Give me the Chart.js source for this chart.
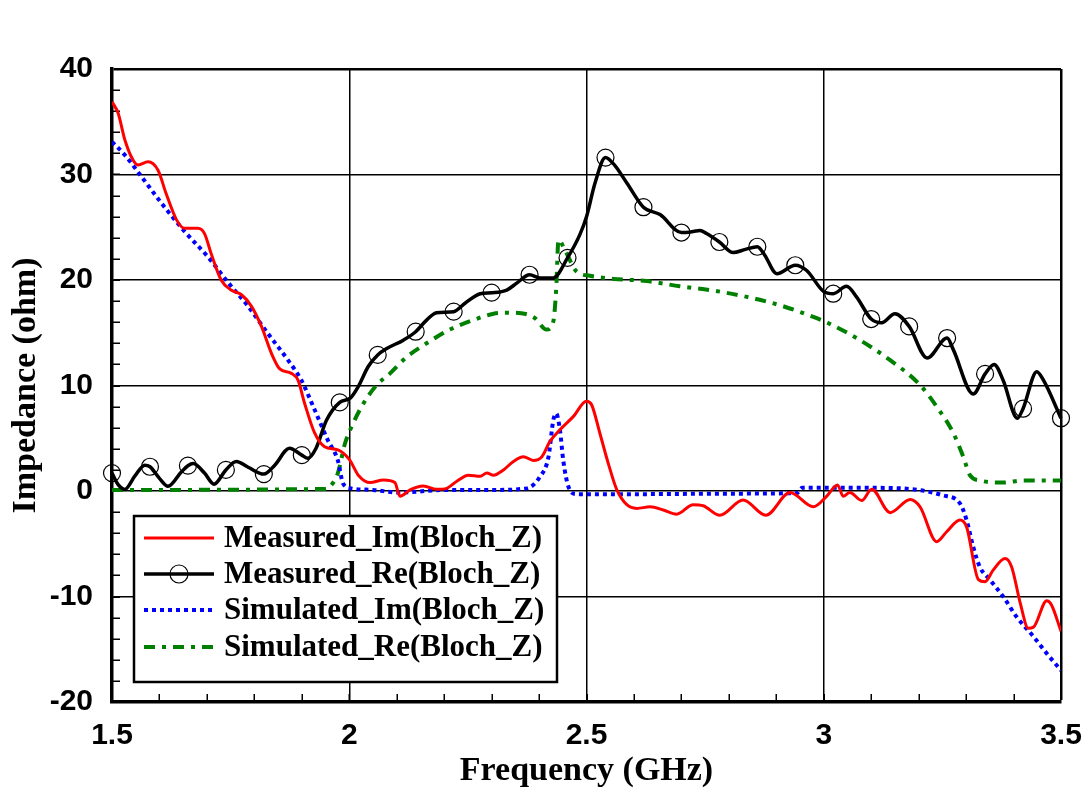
<!DOCTYPE html>
<html><head><meta charset="utf-8">
<script src="https://cdn.jsdelivr.net/npm/chart.js@4/dist/chart.umd.min.js"></script>
<style>html,body{margin:0;padding:0;background:#fff;}#wrap{width:1089px;height:805px;}</style>
</head><body><div id="wrap"><canvas id="c" width="1089" height="805"></canvas></div>
<script>
// ---- data (frequency in GHz, impedance in ohm) ----
const seriesNames = ['Measured_Im(Bloch_Z)','Measured_Re(Bloch_Z)','Simulated_Im(Bloch_Z)','Simulated_Re(Bloch_Z)'];
const xTickValues = [1.5, 2, 2.5, 3, 3.5];
const xTickLabels = ['1.5', '2', '2.5', '3', '3.5'];
const yTickValues = [-20, -10, 0, 10, 20, 30, 40];
const yTickLabels = ['-20', '-10', '0', '10', '20', '30', '40'];

const measImFreq = [1.500,1.513,1.527,1.544,1.555,1.576,1.597,1.614,1.636,1.653,1.681,1.695,1.709,1.730,1.751,1.773,1.794,1.815,1.836,1.853,1.878,1.892,1.906,1.927,1.948,1.976,2.000,2.020,2.044,2.072,2.096,2.107,2.128,2.156,2.184,2.205,2.226,2.251,2.276,2.290,2.304,2.325,2.346,2.367,2.388,2.406,2.423,2.444,2.472,2.500,2.511,2.528,2.546,2.564,2.585,2.606,2.634,2.662,2.690,2.725,2.746,2.781,2.830,2.878,2.929,2.978,3.006,3.029,3.041,3.055,3.080,3.101,3.140,3.182,3.203,3.238,3.259,3.287,3.301,3.326,3.340,3.357,3.382,3.396,3.414,3.431,3.442,3.470,3.480,3.500];
const measImVals = [36.9,35.8,33.3,31.4,30.9,31.2,30.4,28.2,25.7,24.9,24.9,24.4,22.5,20.0,19.05,18.6,17.5,15.6,13.05,11.6,11.15,10.5,8.3,5.5,4.2,3.9,3.0,1.45,0.8,1.04,0.8,-0.5,0.1,0.47,0.16,0.25,0.9,1.5,1.4,1.7,1.5,2.0,2.8,3.25,2.9,3.25,4.7,5.8,7.05,8.5,8.15,5.5,2.6,0.1,-1.3,-1.65,-1.5,-1.8,-2.2,-1.3,-1.4,-2.3,-0.85,-2.3,-0.15,-1.5,-0.5,0.57,-0.5,-0.15,-0.9,0.16,-2.05,-0.8,-1.5,-4.8,-3.86,-2.75,-3.4,-8.4,-8.6,-7.5,-6.4,-7.2,-10.6,-13.0,-12.9,-10.4,-10.8,-13.3];

const measReFreq = [1.500,1.513,1.527,1.548,1.569,1.580,1.600,1.618,1.646,1.660,1.671,1.695,1.715,1.740,1.762,1.787,1.820,1.843,1.874,1.900,1.913,1.930,1.952,1.980,2.002,2.019,2.040,2.060,2.079,2.114,2.140,2.163,2.184,2.220,2.244,2.276,2.300,2.332,2.353,2.380,2.402,2.430,2.460,2.486,2.500,2.518,2.540,2.557,2.585,2.620,2.655,2.700,2.725,2.739,2.753,2.780,2.809,2.835,2.860,2.875,2.901,2.940,2.964,3.000,3.020,3.048,3.069,3.100,3.122,3.150,3.180,3.218,3.260,3.273,3.315,3.340,3.359,3.378,3.408,3.420,3.449,3.463,3.500];
const measReVals = [1.7,0.6,0.15,1.4,2.45,2.3,1.2,0.45,1.8,2.4,2.6,1.7,0.65,2.0,2.8,2.25,1.6,2.45,4.05,3.4,3.1,4.05,6.7,8.4,8.8,9.9,11.8,12.9,13.5,14.3,15.1,16.2,16.9,17.0,17.8,18.7,18.8,19.05,19.7,20.5,20.2,20.2,22.1,24.3,26.0,29.2,31.6,31.0,29.2,26.9,26.2,24.5,24.6,24.7,24.4,23.6,22.6,22.9,23.15,22.4,20.6,21.4,20.9,18.9,18.7,19.4,18.4,16.3,15.95,16.8,15.6,12.6,14.5,13.4,9.2,11.1,12.0,10.5,6.9,7.8,11.3,10.5,6.9];
const measReMarkerFreq = [1.50,1.58,1.66,1.74,1.82,1.90,1.98,2.06,2.14,2.22,2.30,2.38,2.46,2.54,2.62,2.70,2.78,2.86,2.94,3.02,3.10,3.18,3.26,3.34,3.42,3.50];

const simImFreq = [1.500,1.527,1.562,1.604,1.653,1.702,1.744,1.787,1.829,1.871,1.899,1.927,1.955,1.976,1.987,2.004,2.050,2.107,2.200,2.300,2.374,2.402,2.420,2.430,2.436,2.444,2.451,2.462,2.479,2.600,2.800,2.943,2.955,3.100,3.200,3.250,3.287,3.301,3.315,3.329,3.350,3.378,3.406,3.442,3.470,3.500];
const simImVals = [33.1,31.85,29.8,27.3,24.6,22.2,19.8,17.5,14.9,12.4,10.5,7.7,4.8,2.9,0.7,0.25,0.1,-0.15,0.1,0.1,0.25,1.36,3.25,6.7,7.35,5.8,2.9,0.4,-0.3,-0.3,-0.25,-0.2,0.3,0.3,0.1,-0.4,-1.17,-2.75,-5.3,-7.2,-8.4,-10.0,-11.9,-13.8,-15.4,-17.0];

const simReFreq = [1.500,1.950,1.959,1.976,1.991,2.005,2.030,2.058,2.086,2.121,2.163,2.212,2.261,2.304,2.332,2.363,2.391,2.416,2.430,2.436,2.441,2.455,2.479,2.507,2.557,2.627,2.697,2.767,2.838,2.908,2.978,3.010,3.069,3.140,3.203,3.238,3.273,3.294,3.308,3.329,3.378,3.421,3.500];
const simReVals = [0.1,0.2,0.4,1.7,4.5,6.1,8.3,10.05,11.15,12.7,14.0,15.3,16.2,16.8,16.9,16.85,16.4,15.3,16.05,19.05,23.8,22.8,20.8,20.4,20.1,19.9,19.4,19.0,18.4,17.6,16.5,15.9,14.5,12.4,10.05,8.0,5.5,3.25,1.5,1.0,0.8,1.0,1.0];

function pts(xs, ys){ return xs.map((x,i)=>({x:x, y:ys[i]})); }
function isMarker(x){ return measReMarkerFreq.some(m => Math.abs(m-x) < 1e-6); }

const tickFont = {family:'"Liberation Sans", Arial, sans-serif', size:30, weight:'bold'};
const titleFont = {family:'"Liberation Serif", "Times New Roman", serif', size:34, weight:'bold'};

const frameAndMinor = {
  id:'frameAndMinor',
  beforeDatasetsDraw(chart){
    const {ctx, chartArea:a, scales:{x, y}} = chart;
    ctx.save();
    ctx.strokeStyle = '#000'; ctx.lineWidth = 1.5;
    ctx.beginPath();
    for (let v = 1.6; v < 3.45; v += 0.1){
      const px = Math.round(x.getPixelForValue(v)) + 0.25;
      ctx.moveTo(px, a.bottom); ctx.lineTo(px, a.bottom - 8);
    }
    for (let v = -18; v < 40; v += 2){
      const py = Math.round(y.getPixelForValue(v)) + 0.25;
      ctx.moveTo(a.left, py); ctx.lineTo(a.left + 8, py);
    }
    ctx.stroke();
    ctx.restore();
  },
  afterDraw(chart){
    const {ctx} = chart;
    const box = {l:134, t:516, r:557, b:682};
    ctx.save();
    ctx.fillStyle = '#fff';
    ctx.fillRect(box.l, box.t, box.r-box.l, box.b-box.t);
    ctx.strokeStyle = '#000'; ctx.lineWidth = 2.5;
    ctx.strokeRect(box.l, box.t, box.r-box.l, box.b-box.t);
    const rows = [538, 574, 610, 647];
    chart.data.datasets.forEach((ds, i) => {
      const yy = rows[i];
      ctx.save();
      ctx.strokeStyle = ds.borderColor; ctx.lineWidth = ds.borderWidth;
      ctx.setLineDash(ds.borderDash || []);
      ctx.beginPath(); ctx.moveTo(144, yy); ctx.lineTo(214, yy); ctx.stroke();
      ctx.setLineDash([]);
      if (i === 1){
        ctx.lineWidth = 1.2; ctx.beginPath(); ctx.arc(179, yy, 9, 0, Math.PI*2); ctx.stroke();
      }
      ctx.restore();
      ctx.fillStyle = '#000';
      ctx.font = 'bold 31px "Liberation Serif", "Times New Roman", serif';
      ctx.textBaseline = 'middle'; ctx.textAlign = 'left';
      ctx.fillText(ds.label, 224, yy + 1);
    });
    ctx.restore();
  }
};

new Chart(document.getElementById('c'), {
  type:'line',
  data:{datasets:[
    {label:seriesNames[0], data:pts(measImFreq, measImVals), borderColor:'#ff0000', borderWidth:3, pointRadius:0, cubicInterpolationMode:'monotone', fill:false},
    {label:seriesNames[1], data:pts(measReFreq, measReVals), borderColor:'#000000', borderWidth:3.5, cubicInterpolationMode:'monotone', fill:false, clip:false,
      pointRadius: c => (c.raw && isMarker(c.raw.x)) ? 8.5 : 0, pointHoverRadius:0, pointStyle:'circle', pointBorderWidth:1.2, pointBorderColor:'#000', pointBackgroundColor:'rgba(0,0,0,0)'},
    {label:seriesNames[2], data:pts(simImFreq, simImVals), borderColor:'#0000ff', borderWidth:4, borderDash:[4,4], pointRadius:0, cubicInterpolationMode:'monotone', fill:false},
    {label:seriesNames[3], data:pts(simReFreq, simReVals), borderColor:'#008000', borderWidth:4, borderDash:[11,7,4,7], pointRadius:0, cubicInterpolationMode:'monotone', fill:false}
  ]},
  options:{
    responsive:false, animation:false, devicePixelRatio:1,
    layout:{padding:{top:69, right:28, left:0, bottom:0}},
    plugins:{legend:{display:false}, tooltip:{enabled:false}},
    scales:{
      x:{type:'linear', min:1.5, max:3.5,
        afterBuildTicks: s => { s.ticks = xTickValues.map(v => ({value:v})); },
        afterFit: s => { s.height = 103; s.paddingLeft = 0; s.paddingRight = 0; },
        ticks:{color:'#000', font:tickFont, padding:16, maxRotation:0, autoSkip:false,
          callback:(v,i) => xTickLabels[i]},
        grid:{color:'#000', lineWidth: c => (c.tick && c.tick.value === 3.5) ? 2.5 : 1.5, drawTicks:false},
        border:{display:true, color:'#000', width:3.5},
        title:{display:true, text:'Frequency (GHz)', color:'#000', font:titleFont, padding:{top:0, bottom:13}}
      },
      y:{type:'linear', min:-20, max:40,
        afterBuildTicks: s => { s.ticks = yTickValues.map(v => ({value:v})); },
        afterFit: s => { s.width = 112; s.paddingTop = 0; s.paddingBottom = 0; },
        ticks:{color:'#000', font:tickFont, padding:19, autoSkip:false,
          callback:(v,i) => yTickLabels[i]},
        grid:{color:'#000', lineWidth: c => (c.tick && c.tick.value === 40) ? 2.5 : 1.5, drawTicks:false},
        border:{display:true, color:'#000', width:3.5},
        title:{display:true, text:'Impedance (ohm)', color:'#000', font:titleFont, padding:{top:6, bottom:0}}
      }
    }
  },
  plugins:[frameAndMinor]
});
</script></body></html>
